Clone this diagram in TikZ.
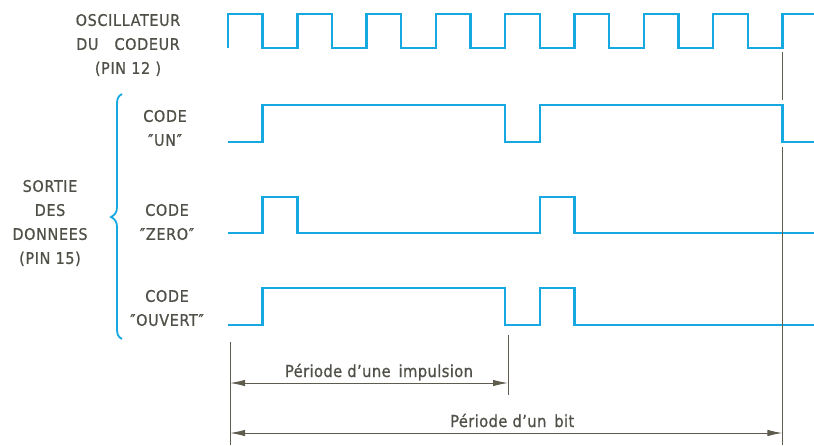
\documentclass[tikz,border=0pt]{standalone}
\usepackage{fontspec}
\setmainfont{DejaVu Sans Condensed}[LetterSpace=4, FakeBold=0.8]
\newfontfamily\dimfont{DejaVu Sans Condensed}[LetterSpace=2, FakeBold=0.8]
\usetikzlibrary{arrows.meta}
\definecolor{wavecol}{RGB}{22,168,225}
\definecolor{inkgray}{RGB}{80,80,72}
\definecolor{rulegray}{RGB}{95,92,78}

\begin{document}
\begin{tikzpicture}[x=1pt, y=-1pt, >={Latex[length=15pt,width=6.5pt]},
    wave/.style={line width=2.4pt, wavecol, line join=miter},
    lbl/.style={inkgray, font=\fontsize{16}{24}\selectfont, align=center, inner sep=0pt},
    dimlbl/.style={inkgray, font=\dimfont\fontsize{16.5}{20}\selectfont, inner sep=0pt, anchor=base},
    tickline/.style={rulegray, line width=1pt},
    dimline/.style={rulegray, line width=1pt, <->}]
        \def\hp{34.65} \def\xo{228}

        \useasboundingbox (0,0) rectangle (814,445);

        % labels on the left
        \node[lbl] (osclbl) at (128,45) {OSCILLATEUR\\DU\quad CODEUR\\(PIN 12 )};
        \node[lbl] (sortielbl) at (50,223) {SORTIE\\DES\\DONNEES\\(PIN 15)};
        \node[lbl] (unlbl) at (165,128) {CODE\\″UN″};
        \node[lbl] (zerolbl) at (167,222) {CODE\\″ZERO″};
        \node[lbl] (ouvertlbl) at (167,308) {CODE\\″OUVERT″};

        \draw[wavecol, line width=1.8pt] (122,94) .. controls (118,96) and (117,99) .. (117,104) -- (117,207)
        .. controls (117,212) and (115,215) .. (111,217) .. controls (115,219) and (117,222) .. (117,227)
        -- (117,329) .. controls (117,334) and (118,337) .. (122,339);

        % oscillator
        \draw[wave] (\xo,48) \foreach \i in {1,...,8} { -- ++(0,-34) -- ++(\hp,0) -- ++(0,34) -- ++(\hp,0) }
        -- ++(0,-34) -- (814,14);

        % code "un"
        \draw[wave] (\xo,142) -- ({\xo+\hp},142) |- ({\xo+8*\hp},105) |- ({\xo+9*\hp},142)
        |- ({\xo+16*\hp},105) |- (814,142);

        % code "zero"
        \draw[wave] (\xo,233) -- ({\xo+\hp},233) |- ({\xo+2*\hp},197) |- ({\xo+9*\hp},233)
        |- ({\xo+10*\hp},197) |- (814,233);

        % code "ouvert"
        \draw[wave] (\xo,325) -- ({\xo+\hp},325) |- ({\xo+8*\hp},288) |- ({\xo+9*\hp},325)
        |- ({\xo+10*\hp},288) |- (814,325);

        % time marks
        \coordinate (tstart) at (230,342);
        \coordinate (timp) at (508,335);
        \coordinate (tbit) at ({\xo+16*\hp},52);
        \draw[tickline] (tstart) -- (230,445);
        \draw[tickline] (timp) -- (508,395);
        \draw[tickline] (tbit) -- ({\xo+16*\hp},100);
        \draw[tickline] ({\xo+16*\hp},147) -- ({\xo+16*\hp},445);

        \coordinate (imp1) at (230,383);
        \coordinate (imp2) at (508,383);
        \coordinate (bit1) at (230,433);
        \coordinate (bit2) at ({\xo+16*\hp},433);
        \draw[dimline] (imp1) -- (imp2) node[dimlbl, midway, yshift=6pt, xshift=10pt] (implbl) {Période d’une\, impulsion};
        \draw[dimline] (bit1) -- (bit2) node[dimlbl, midway, yshift=6pt, xshift=6pt] (bitlbl) {Période d’un\, bit};
    \end{tikzpicture}
\end{document}
